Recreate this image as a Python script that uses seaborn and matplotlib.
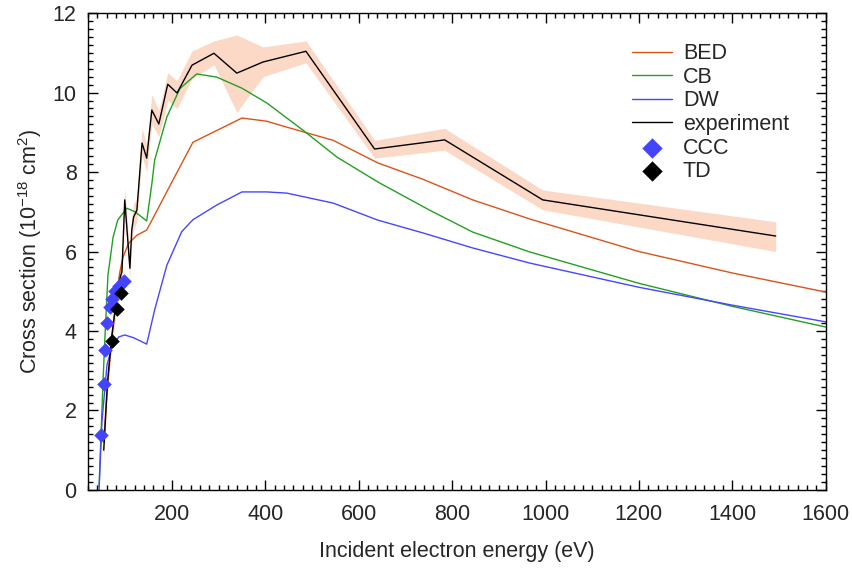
import matplotlib
matplotlib.use('Agg')
import matplotlib.pyplot as plt
import numpy as np
import seaborn as sns
from matplotlib.ticker import MultipleLocator

# experiment (with uncertainty band)
e_exp = [54, 62, 71, 78, 86, 93, 99, 110, 114, 118, 125, 136, 146, 157, 172,
         191, 211, 243, 290, 339, 395, 487, 634, 784, 994, 1493]
s_exp = [1.0, 2.7, 3.85, 4.5, 5.2, 5.5, 7.3, 5.58, 6.54, 6.87, 7.04, 8.73, 8.35, 9.56, 9.21,
         10.21, 9.99, 10.69, 10.99, 10.49, 10.77, 11.04, 8.58, 8.81, 7.30, 6.39]
s_lo = [0.7, 2.4, 3.55, 4.2, 4.9, 5.2, 6.9, 5.3, 6.25, 6.55, 6.75, 8.4, 8.0, 9.2, 8.9,
        9.8, 9.6, 10.35, 10.7, 9.5, 10.4, 10.75, 8.35, 8.55, 7.05, 6.0]
s_hi = [1.3, 3.0, 4.15, 4.8, 5.5, 5.8, 7.6, 5.9, 6.85, 7.2, 7.35, 9.1, 8.7, 9.95, 9.55,
        10.5, 10.3, 11.05, 11.3, 11.45, 11.15, 11.3, 8.8, 9.1, 7.55, 6.75]

# BED theory
e_bed = [54, 60, 65, 70, 76, 82, 88, 95, 107, 125, 146, 172, 200, 245, 350, 403, 446,
         545, 641, 737, 844, 966, 1200, 1400, 1600]
s_bed = [1.2, 2.3, 3.0, 3.7, 4.3, 4.9, 5.45, 5.85, 6.2, 6.41, 6.54, 7.12, 7.75, 8.75, 9.36, 9.28, 9.13,
         8.8, 8.23, 7.82, 7.30, 6.82, 6.0, 5.46, 4.98]

# CB theory
e_cb = [44, 48, 52, 56, 63, 74, 84, 103, 121, 146, 157, 163, 189, 217, 253, 296, 350,
        403, 480, 553, 641, 752, 844, 966, 1200, 1400, 1600]
s_cb = [0.07, 1.33, 2.6, 3.7, 5.4, 6.36, 6.79, 7.09, 7.0, 6.77, 7.7, 8.3, 9.38, 10.1, 10.47, 10.39, 10.11,
        9.74, 9.06, 8.38, 7.75, 7.04, 6.49, 5.99, 5.2, 4.62, 4.1]

# DW theory
e_dw = [44, 50, 61, 71, 86, 99, 118, 146, 163, 189, 221, 245, 296, 350, 403, 446,
        545, 641, 737, 844, 966, 1200, 1400, 1600]
s_dw = [0.0, 1.7, 3.15, 3.57, 3.85, 3.9, 3.83, 3.67, 4.53, 5.65, 6.5, 6.8, 7.17, 7.5, 7.5, 7.47,
        7.22, 6.79, 6.47, 6.09, 5.71, 5.1, 4.65, 4.23]

# CCC and TD points
e_ccc = [48, 54, 56, 61, 67, 72, 78, 86, 97]
s_ccc = [1.38, 2.67, 3.52, 4.2, 4.6, 4.8, 5.0, 5.12, 5.25]
e_td = [71, 82, 91]
s_td = [3.75, 4.55, 4.96]

sns.set_theme(style='ticks')
plt.rcParams['font.family'] = ['Liberation Sans', 'DejaVu Sans']
plt.rcParams['mathtext.default'] = 'regular'
fs = 15.5

fig, ax = plt.subplots(figsize=(8.53, 5.71), dpi=100)
fig.subplots_adjust(left=0.103, right=0.968, top=0.977, bottom=0.142)

ax.fill_between(e_exp, s_lo, s_hi, color='#fcd9c6', linewidth=0)
sns.lineplot(x=e_bed, y=s_bed, color='#d9541a', lw=1.0, label='BED', ax=ax)
sns.lineplot(x=e_cb, y=s_cb, color='#22a022', lw=1.0, label='CB', ax=ax)
sns.lineplot(x=e_dw, y=s_dw, color='#4646ff', lw=1.0, label='DW', ax=ax)
sns.lineplot(x=e_exp, y=s_exp, color='black', lw=1.0, label='experiment', ax=ax)
sns.scatterplot(x=e_ccc, y=s_ccc, color='#4444ff', marker='D', s=55, linewidth=0,
                label='CCC', ax=ax, zorder=5)
sns.scatterplot(x=e_td, y=s_td, color='black', marker='D', s=55, linewidth=0,
                label='TD', ax=ax, zorder=5)

ax.set_xlim(20, 1600)
ax.set_ylim(0, 12)
ax.xaxis.set_major_locator(MultipleLocator(200))
ax.xaxis.set_minor_locator(MultipleLocator(20))
ax.yaxis.set_major_locator(MultipleLocator(2))
ax.yaxis.set_minor_locator(MultipleLocator(0.2))
ax.tick_params(which='both', direction='in', top=True, right=True, labelsize=fs, width=1.0, color='black')
ax.tick_params(which='major', length=7)
ax.tick_params(which='minor', length=3.5)
ax.tick_params(axis='x', pad=10)
ax.tick_params(axis='y', pad=8)
for sp in ax.spines.values():
    sp.set_linewidth(1.0)
    sp.set_color('black')

ax.set_xlabel('Incident electron energy (eV)', fontsize=fs, labelpad=12)
ax.set_ylabel(r'Cross section (10$^{-18}$ cm$^{2}$)', fontsize=fs, labelpad=6)

ax.legend(loc='upper left', bbox_to_anchor=(0.738, 0.937), frameon=False, fontsize=fs,
          handlelength=1.85, handletextpad=0.5, labelspacing=0.12, borderpad=0, borderaxespad=0,
          markerscale=1.4)

fig.savefig('out.png', dpi=100)
